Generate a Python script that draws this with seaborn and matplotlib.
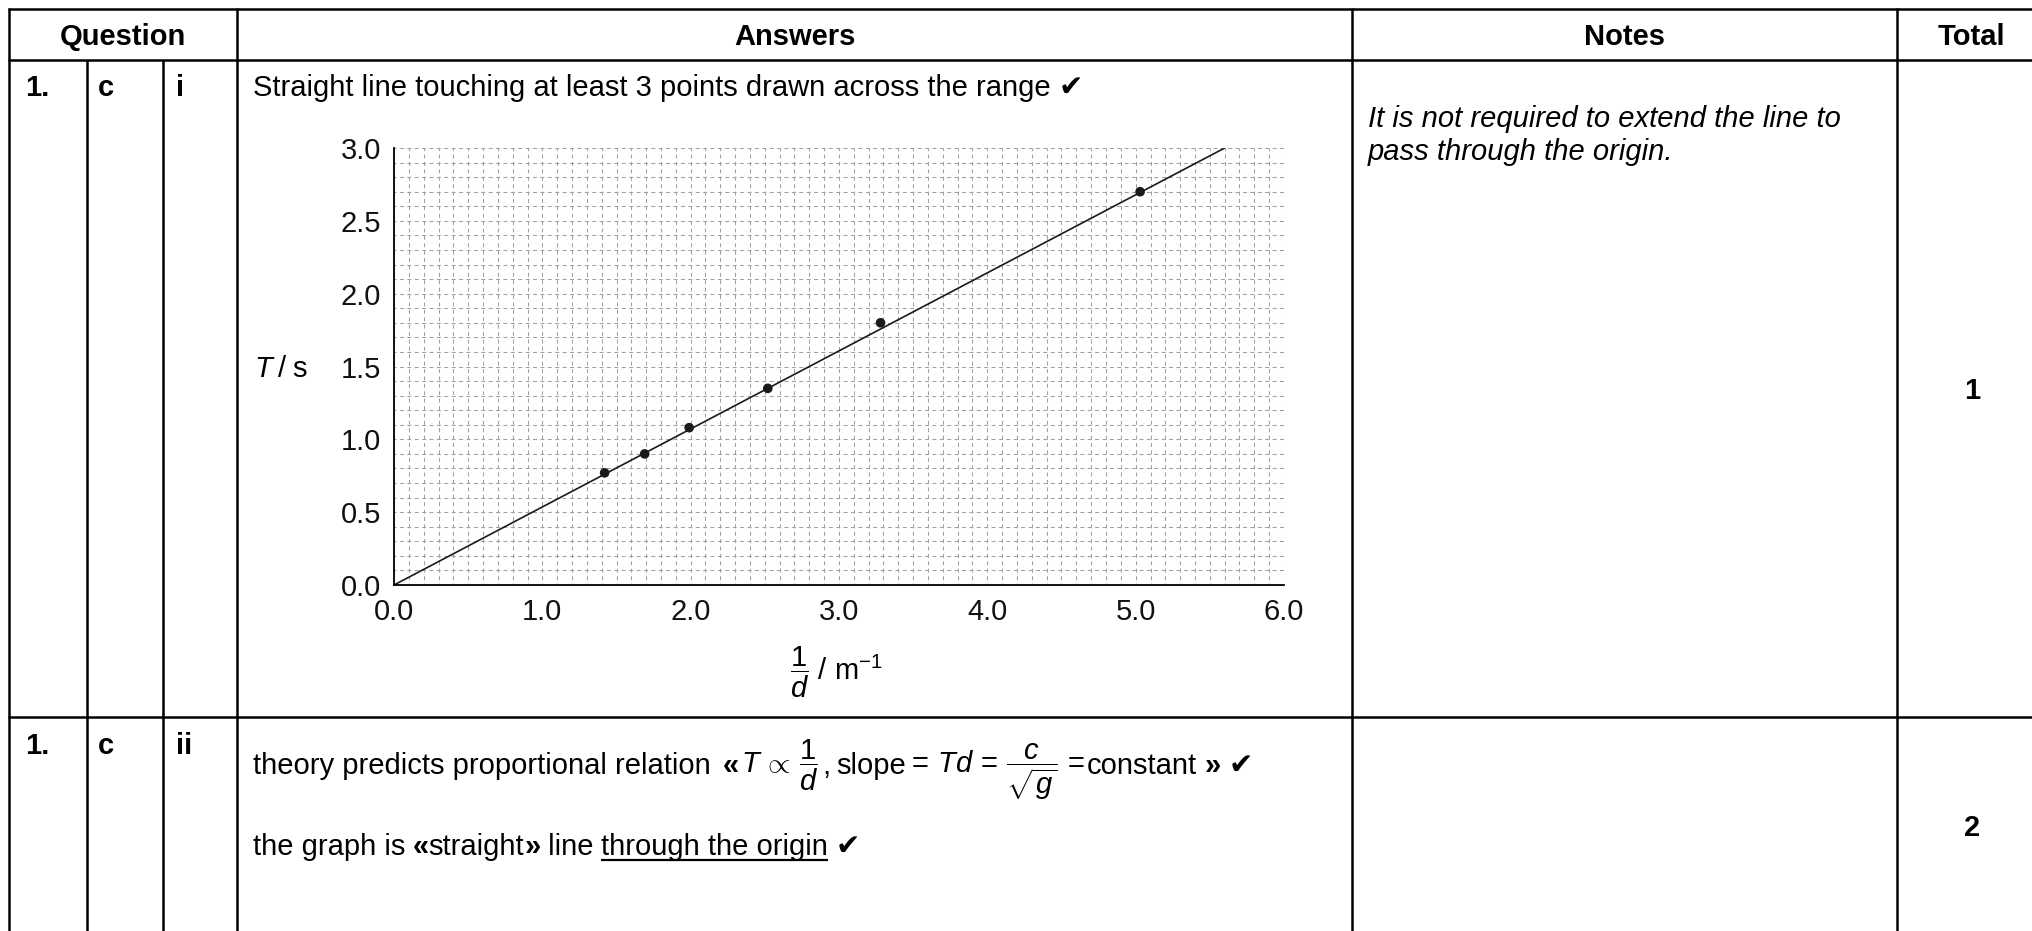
import matplotlib
matplotlib.use('Agg')
import matplotlib.pyplot as plt
from matplotlib.lines import Line2D
import numpy as np
import seaborn as sns

W, H = 2033, 931
FS = 21

# points
inv_d = [1.42, 1.69, 1.99, 2.52, 3.28, 5.03]
period = [0.77, 0.90, 1.08, 1.35, 1.80, 2.70]
# straight line through the origin
fit_x = [0.0, 5.6]
fit_y = [0.0, 3.0]

x_ticks = [0.0, 0.5, 1.0, 1.5, 2.0, 2.5, 3.0, 3.5, 4.0, 4.5, 5.0, 5.5, 6.0]
x_labels = ['0.0', '', '1.0', '', '2.0', '', '3.0', '', '4.0', '', '5.0', '', '6.0']
y_ticks = [0.0, 0.5, 1.0, 1.5, 2.0, 2.5, 3.0]
y_labels = ['0.0', '0.5', '1.0', '1.5', '2.0', '2.5', '3.0']

headers = ['Question', 'Answers', 'Notes', 'Total']
notes = ['It is not required to extend the line to', 'pass through the origin.']
totals = ['1', '2']

sns.set_theme(style='white')
plt.rcParams['font.family'] = ['Liberation Sans', 'DejaVu Sans']
plt.rcParams['mathtext.fontset'] = 'custom'
plt.rcParams['mathtext.rm'] = 'Liberation Sans'
plt.rcParams['mathtext.it'] = 'Liberation Sans:italic'
plt.rcParams['mathtext.bf'] = 'Liberation Sans:bold'
plt.rcParams['text.color'] = 'black'

fig = plt.figure(figsize=(W / 100, H / 100), dpi=100)
renderer = fig.canvas.get_renderer()


def fx(x):
    return x / W


def fy(y):
    return 1 - y / H


def hline(y, x0, x1, lw=1.8):
    fig.add_artist(Line2D([fx(x0), fx(x1)], [fy(y), fy(y)], transform=fig.transFigure,
                          color='black', lw=lw, solid_capstyle='butt'))


def vline(x, y0, y1, lw=1.8):
    fig.add_artist(Line2D([fx(x), fx(x)], [fy(y0), fy(y1)], transform=fig.transFigure,
                          color='black', lw=lw, solid_capstyle='butt'))


def chain(x, y, parts):
    # lay text pieces out left to right on one baseline
    spans = []
    for p in parts:
        if isinstance(p, (int, float)):
            x += p
            continue
        s, kw = p
        kw = dict(kw)
        size = kw.pop('size', FS)
        t = fig.text(fx(x), fy(y), s, fontsize=size, ha='left', va='baseline', **kw)
        bb = t.get_window_extent(renderer)
        spans.append((x, x + bb.width))
        x += bb.width
    return x, spans


N = {}
B = {'fontweight': 'bold'}
I = {'fontstyle': 'italic'}
CK = {'family': ['DejaVu Sans'], 'size': 21}

# table grid
for y in [9, 60, 717]:
    hline(y, 8, W)
for x, y0 in [(9, 8), (87, 60), (163, 60), (237, 8), (1352, 8), (1897, 8)]:
    vline(x, y0, H)

# header
for label, cx in zip(headers, [123, 795, 1625, 1971]):
    fig.text(fx(cx), fy(45), label, fontsize=FS, fontweight='bold', ha='center', va='baseline')

# question labels
for y, sub in [(96, 'i'), (754, 'ii')]:
    fig.text(fx(25), fy(y), '1.', fontsize=FS, fontweight='bold', va='baseline')
    fig.text(fx(98), fy(y), 'c', fontsize=FS, fontweight='bold', va='baseline')
    fig.text(fx(176), fy(y), sub, fontsize=FS, fontweight='bold', va='baseline')

# row 1 answer
chain(253, 96, [('Straight line touching at least 3 points drawn across the range', N), 8,
                ('\u2714', CK)])

# notes
for i, line in enumerate(notes):
    fig.text(fx(1368), fy(127 + 33 * i), line, fontsize=FS, fontstyle='italic', va='baseline')

# totals
for t, y in zip(totals, [399, 836]):
    fig.text(fx(1972), fy(y), t, fontsize=FS, fontweight='bold', ha='center', va='baseline')

# row 2 answer
chain(253, 774, [('theory predicts proportional relation', N), 12, ('\u00ab', B), 2,
                 (r'$T\,\propto\,\dfrac{1}{d}$', N), 4, (',', N), 6, ('slope', N), 1,
                 (r'$=\,Td\,=\,\dfrac{c}{\sqrt{g}}\,=$', N), 2, ('constant', N), 7,
                 ('\u00bb', B), 8, ('\u2714', CK)])

end, spans = chain(253, 855, [('the graph is', N), 7, ('\u00ab', B), ('straight', N), ('\u00bb', B),
                              (' line', N), 7, ('through the origin', N), 8, ('\u2714', CK)])
u0, u1 = spans[-2]
hline(860, u0, u1, lw=1.6)

# the graph
L, R, T, Bt = 394, 1284, 148, 585
ax = fig.add_axes([fx(L), fy(Bt), fx(R) - fx(L), fy(T) - fy(Bt)])
ax.set_xlim(0, 6)
ax.set_ylim(0, 3)
ax.set_xticks(np.arange(0, 6.01, 0.1), minor=True)
ax.set_yticks(np.arange(0, 3.01, 0.1), minor=True)
ax.set_xticks(x_ticks)
ax.set_xticklabels(x_labels)
ax.set_yticks(y_ticks)
ax.set_yticklabels(y_labels)
ax.grid(which='both', color='#a0a0a0', linestyle=(1.9, (3.8, 3.3)), linewidth=0.75)
ax.set_axisbelow(True)
for side in ['top', 'right']:
    ax.spines[side].set_visible(False)
for side in ['left', 'bottom']:
    ax.spines[side].set_color('black')
    ax.spines[side].set_linewidth(1.3)
ax.tick_params(which='major', direction='out', length=7.5, width=1.2, color='black',
               labelsize=21, pad=2, labelcolor='#111111')
ax.tick_params(which='minor', length=0)

sns.lineplot(x=fit_x, y=fit_y, ax=ax, color='#1a1a1a', lw=1.2)
sns.scatterplot(x=inv_d, y=period, ax=ax, color='#1a1a1a', s=48, edgecolor='none', zorder=5)
ax.set_xlabel('')
ax.set_ylabel('')

chain(254, 377, [('T', I), 6, ('/', N), 6, ('s', N)])
fig.text(fx(790), fy(672), r'$\dfrac{1}{d}\ /\ \mathrm{m}^{-1}$', fontsize=FS,
         ha='left', va='center')

fig.savefig('out.png', dpi=100)
